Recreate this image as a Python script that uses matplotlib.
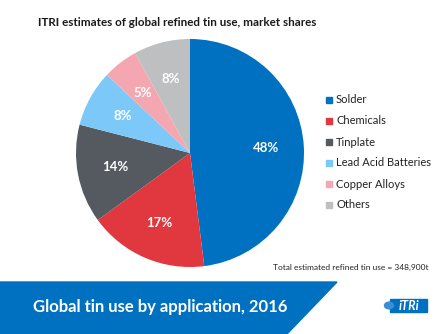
import matplotlib.pyplot as plt
from matplotlib.patches import Polygon, Rectangle, Circle

plt.rcParams['font.family'] = ['Lato', 'DejaVu Sans']

kategorie = ['Solder', 'Chemicals', 'Tinplate', 'Lead Acid Batteries', 'Copper Alloys', 'Others']
udzialy = [48, 17, 14, 8, 5, 8]
kolory = ['#0070C0', '#E0383E', '#555A60', '#7CC8F8', '#F4A7B1', '#BDBFC1']

W, H = 448, 334
fig = plt.figure(figsize=(W / 100, H / 100), dpi=100)


def fx(x):
    return x / W


def fy(y):
    return 1 - y / H


# wykres kolowy
cx, cy, r = 190, 153, 114
ax = fig.add_axes([fx(cx - r), fy(cy + r), 2 * r / W, 2 * r / H])
wedges, _, etykiety = ax.pie(udzialy, colors=kolory, startangle=90, counterclock=False,
                             autopct='%d%%', pctdistance=0.67,
                             wedgeprops={'linewidth': 0},
                             textprops={'color': 'white', 'fontweight': 'bold', 'fontsize': 9.5})
ax.set_aspect('auto')
ax.set_xlim(-1, 1)
ax.set_ylim(-1, 1)

# tytul
fig.text(fx(38), fy(23), 'ITRI estimates of global refined tin use, market shares',
         fontsize=8.4, fontweight='bold', color='#1a1a1a', va='center')

# legenda
for i, (nazwa, kol) in enumerate(zip(kategorie, kolory)):
    y = 100 + i * 21
    fig.patches.append(Rectangle((fx(326), fy(y + 3)), 6 / W, 6 / H, color=kol,
                                 transform=fig.transFigure))
    fig.text(fx(336), fy(y), nazwa, fontsize=8, color='#222222', va='center')

fig.text(fx(428), fy(267), 'Total estimated refined tin use = 348,900t',
         fontsize=6, color='#222222', ha='right', va='center')

# pasek na dole
fig.patches.append(Polygon([(0, fy(282)), (fx(337), fy(282)), (fx(287), 0), (0, 0)],
                           closed=True, color='#0070C0', transform=fig.transFigure))
fig.text(fx(33), fy(307), 'Global tin use by application, 2016', fontsize=12,
         fontweight='bold', color='white', va='center')

# logo
fig.patches.append(Rectangle((fx(390), fy(312)), 37 / W, 13 / H, color='#0070C0',
                             transform=fig.transFigure))
fig.patches.append(Circle((fx(389), fy(305.5)), 4.5 / W, color='#3A8FD0',
                          transform=fig.transFigure))
fig.text(fx(409), fy(305.5), 'iTRi', fontsize=9, fontweight='bold', fontstyle='italic',
         color='white', ha='center', va='center')

plt.savefig('out.png', dpi=100)
